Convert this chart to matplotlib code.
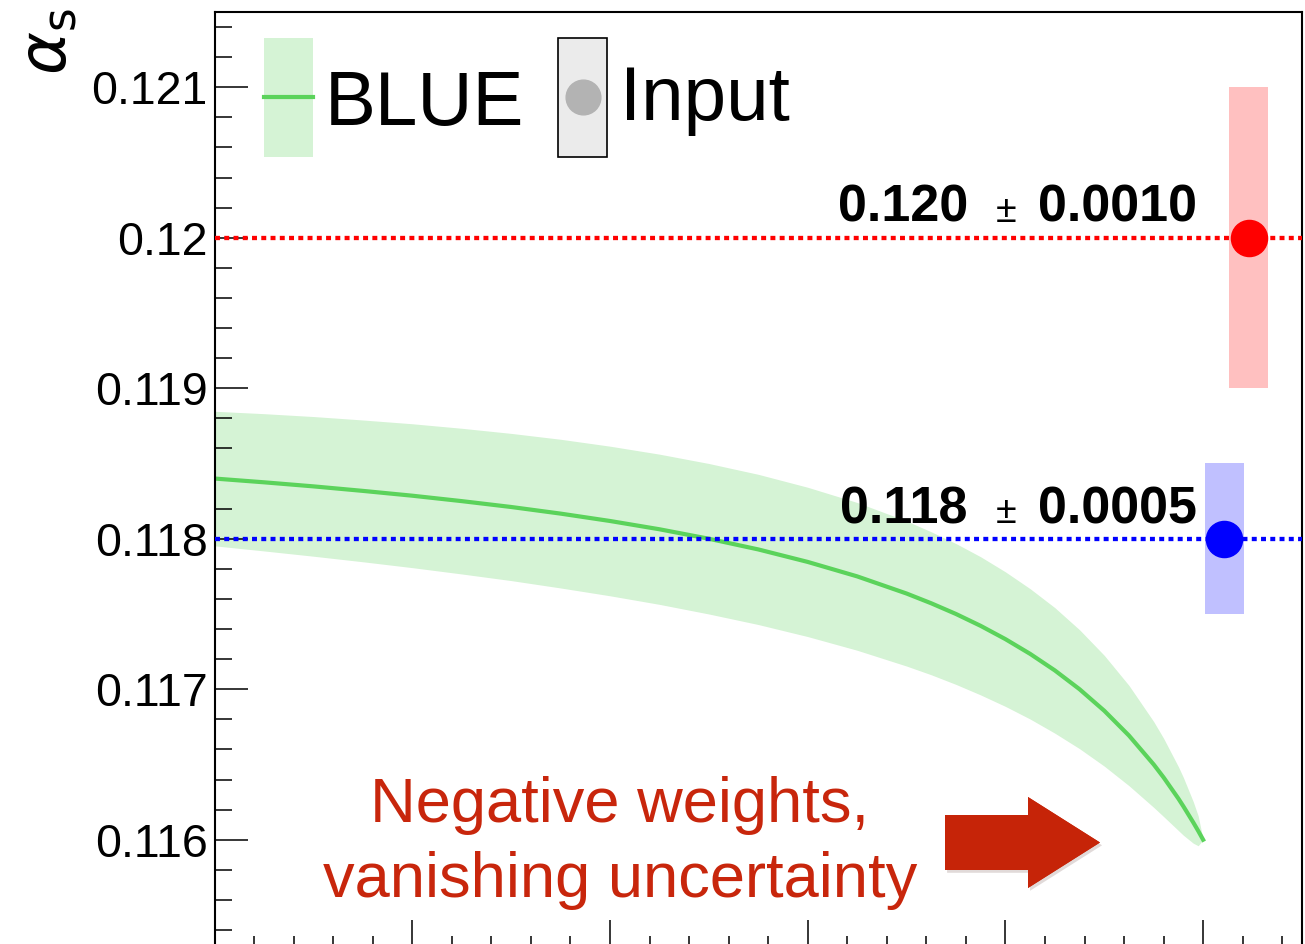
import matplotlib
matplotlib.use("Agg")
import matplotlib.pyplot as plt
from matplotlib.patches import Rectangle, FancyArrow
from matplotlib.lines import Line2D
from matplotlib.ticker import FixedLocator, MultipleLocator, NullFormatter
import matplotlib.patheffects as pe

plt.rcParams['font.family'] = ['Liberation Sans', 'DejaVu Sans']

# correlation between the two inputs, BLUE combination and its uncertainty
rho = [0.0, 0.05, 0.1, 0.15, 0.2, 0.25, 0.3, 0.35, 0.4, 0.45, 0.5, 0.55, 0.6, 0.65,
       0.7, 0.725, 0.75, 0.775, 0.8, 0.825, 0.85, 0.875, 0.9, 0.925, 0.95, 0.96,
       0.975, 0.98, 0.99, 0.995, 1.0]
blue_val = [0.11840, 0.118375, 0.118348, 0.118318, 0.118286, 0.118250, 0.118211,
            0.118167, 0.118118, 0.118063, 0.118000, 0.117929, 0.117846, 0.117750,
            0.117636, 0.117571, 0.117500, 0.117421, 0.117333, 0.117235, 0.117125,
            0.117000, 0.116857, 0.116692, 0.116500, 0.116414, 0.116273, 0.116222,
            0.116115, 0.116059, 0.116000]
blue_err = [0.000447, 0.000456, 0.000464, 0.000471, 0.000478, 0.000484, 0.000489,
            0.000494, 0.000497, 0.000499, 0.000500, 0.000499, 0.000496, 0.000491,
            0.000482, 0.000475, 0.000468, 0.000459, 0.000447, 0.000433, 0.000417,
            0.000395, 0.000368, 0.000333, 0.000285, 0.000260, 0.000212, 0.000192,
            0.000138, 0.000099, 0.0]

# the two input measurements
input_x = [1.046, 1.0215]
input_val = [0.120, 0.118]
input_err = [0.0010, 0.0005]
input_txt = [('0.120', '0.0010'), ('0.118', '0.0005')]

yticks = [0.116, 0.117, 0.118, 0.119, 0.120, 0.121]
ylabels = ['0.116', '0.117', '0.118', '0.119', '0.12', '0.121']

W, H = 1305, 944
fig = plt.figure(figsize=(W / 100, H / 100), dpi=100)


def fx(px):
    return px / W


def fy(py):
    return 1 - py / H


ax = fig.add_axes([fx(214.5), fy(952.6), 1087.5 / W, 940.6 / H])

lo = [v - e for v, e in zip(blue_val, blue_err)]
hi = [v + e for v, e in zip(blue_val, blue_err)]
ax.fill_between(rho, lo, hi, color='#d5f3d5', lw=0, zorder=1)
ax.plot(rho, blue_val, color='#5bd35b', lw=3, zorder=2)

colors = ['#ff0000', '#0000ff']
boxcol = ['#ffc0c0', '#c0c0ff']
for x, v, e, c, bc in zip(input_x, input_val, input_err, colors, boxcol):
    ax.bar(x, 2 * e, bottom=v - e, width=0.04, color=bc, lw=0, zorder=3)
    ax.axhline(v, color=c, lw=3.1, ls=(0, (1.15, 1.0)), zorder=4)
    ax.plot(x, v, 'o', ms=26, color=c, mec=c, zorder=5)

ax.set_xlim(0, 1.1)
ax.set_ylim(0.11525, 0.1215)
ax.xaxis.set_major_locator(MultipleLocator(0.2))
ax.xaxis.set_minor_locator(MultipleLocator(0.04))
ax.xaxis.set_major_formatter(NullFormatter())
ax.yaxis.set_major_locator(FixedLocator(yticks))
ax.yaxis.set_minor_locator(MultipleLocator(0.0002))
ax.set_yticklabels(ylabels)
ax.tick_params(which='both', direction='in', left=True, bottom=True, top=False, right=False,
               width=1.1, labelbottom=False)
ax.tick_params(which='major', length=24)
ax.tick_params(which='minor', length=12)
ax.tick_params(axis='y', labelsize=33.5, pad=5)
for s in ax.spines.values():
    s.set_linewidth(1.5)

# axis title
fig.text(fx(50), fy(42), r'$\alpha_{\mathsf{s}}$', rotation=90, fontsize=47,
         ha='center', va='center')

# value labels
for (a, b), base in zip(input_txt, [222, 523]):
    fig.text(fx(968), fy(base), a, fontsize=37.5, fontweight='bold', ha='right', va='baseline')
    fig.text(fx(1006), fy(base), '±', fontsize=27, ha='center', va='baseline')
    fig.text(fx(1038), fy(base), b, fontsize=37.5, fontweight='bold', ha='left', va='baseline')

# legend drawn by hand
fig.add_artist(Rectangle((fx(264), fy(157)), 49 / W, 119 / H, transform=fig.transFigure,
                         color='#d5f3d5', lw=0))
fig.add_artist(Line2D([fx(264), fx(313)], [fy(97), fy(97)], transform=fig.transFigure,
                      color='#5bd35b', lw=3))
fig.text(fx(325), fy(125), 'BLUE', fontsize=55, ha='left', va='baseline')
fig.add_artist(Rectangle((fx(558), fy(157)), 49 / W, 119 / H, transform=fig.transFigure,
                         fc='#ebebeb', ec='black', lw=1.2))
fig.add_artist(Line2D([fx(583)], [fy(97)], transform=fig.transFigure, marker='o', ms=25,
                      color='#b3b3b3', ls='none'))
fig.text(fx(620), fy(120), 'Input', fontsize=55, ha='left', va='baseline')

# annotation
red = '#c8260c'
fig.text(fx(620), fy(822), 'Negative weights,', fontsize=45.5, color=red, ha='center', va='baseline')
fig.text(fx(620), fy(897), 'vanishing uncertainty', fontsize=45.5, color=red, ha='center', va='baseline')
arr = FancyArrow(fx(945), fy(842.5), fx(1100) - fx(945), 0, width=55 / H, head_width=91 / H,
                 head_length=72 / W, length_includes_head=True, transform=fig.transFigure,
                 color='#c62408', lw=0)
arr.set_path_effects([pe.withSimplePatchShadow(offset=(1.5, -2), alpha=0.15), pe.Normal()])
fig.add_artist(arr)

fig.savefig('out.png', dpi=100)
